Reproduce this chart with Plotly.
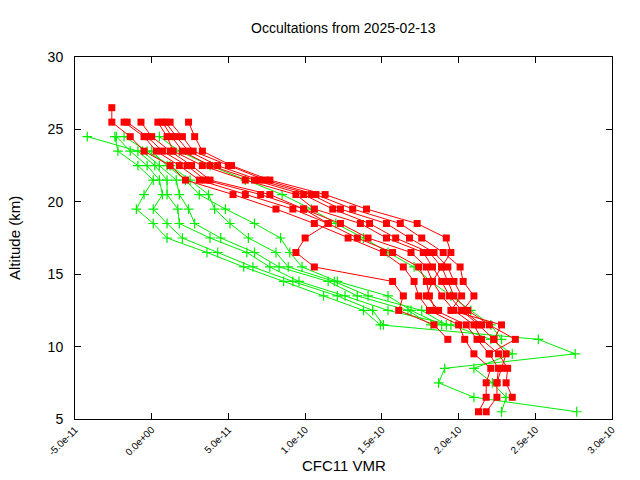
import plotly.graph_objects as go

# Altitude levels (km) shared by all profiles
alt = [26.5, 25.5, 24.5, 23.5, 22.5, 21.5, 20.5, 19.5, 18.5, 17.5, 16.5,
       15.5, 14.5, 13.5, 12.5, 11.5, 10.5, 9.5, 8.5, 7.5, 6.5, 5.5]

# CFC11 VMR profiles, in units of 1e-10 (None = no retrieval at that level)
red_1 = [-0.26, -0.26, -0.14, -0.05, 0.12, 0.22, 0.53, 0.81, 1.06, 1.28, 1.51,
         1.64, 1.71, 1.74, 1.81, 2.00, 2.04, 2.10, 2.21, 2.18, 2.18, 2.13]
red_2 = [None, -0.18, -0.05, 0.03, 0.18, 0.31, 0.61, 0.92, 1.15, 1.34, 1.57,
         1.74, 1.79, 1.81, 1.85, 2.05, 2.12, 2.20, 2.26, 2.25, 2.25, 2.18]
red_3 = [None, -0.16, -0.03, 0.07, 0.23, 0.35, 0.71, 0.99, 1.23, 1.41, 1.69,
         1.79, 1.83, 1.89, 1.97, 2.10, 2.15, 2.26, 2.32, 2.31, 2.35, None]
red_4 = [None, -0.07, 0.00, 0.12, 0.26, 0.38, 0.77, 0.99, 1.15, 1.00, 0.94,
         1.06, 1.57, 1.64, 1.61, 1.84, 1.93, None, None, None, None, None]
red_5 = [None, 0.04, 0.10, 0.14, 0.33, 0.61, 0.94, 1.06, 1.36, 1.53, 1.77,
         1.83, 1.89, 1.94, 2.02, 2.13, 2.23, 2.31, 2.28, 2.25, None, None]
red_6 = [None, 0.07, 0.13, 0.20, 0.38, 0.67, 0.99, 1.18, 1.42, 1.59, 1.81,
         1.89, 1.93, 1.97, 2.06, 2.20, 2.37, 2.20, None, None, None, None]
red_7 = [None, 0.09, 0.16, 0.24, 0.43, 0.70, 1.04, 1.23, 1.53, 1.68, 1.84,
         1.93, 1.97, 2.02, 1.95, 2.28, 2.23, None, None, None, None, None]
red_8 = [None, 0.12, 0.20, 0.27, 0.50, 0.74, 1.07, 1.31, 1.62, 1.76, 1.90,
         2.01, 2.03, 2.10, 2.03, 2.15, None, None, None, None, None, None]
red_9 = [None, 0.24, 0.28, 0.33, 0.52, 0.77, 1.13, 1.40, 1.73, 1.92, 1.95,
         1.89, 1.83, 1.79, 1.87, None, None, None, None, None, None, None]

green_1 = [None, None, -0.24, -0.22, -0.09, 0.01, -0.05, -0.10, 0.01, 0.10, 0.36,
           0.60, 0.86, 1.12, 1.38, 1.49, 2.52, 2.76, 1.91, 1.87, 2.10, 2.77]
green_2 = [None, None, -0.23, -0.14, -0.03, 0.05, 0.07, 0.01, 0.10, 0.20, 0.43,
           0.66, 0.92, 1.21, 1.44, 1.51, None, None, None, None, None, None]
green_3 = [None, None, -0.42, -0.09, 0.02, 0.10, 0.10, 0.17, 0.18, 0.38, 0.62,
           0.77, 0.96, 1.26, 1.54, 1.95, 2.21, 2.35, 2.10, 2.22, 2.31, 2.28]
green_4 = [None, None, None, -0.06, 0.05, 0.16, 0.18, 0.24, 0.28, 0.45, 0.67,
           0.83, 1.15, 1.34, 1.67, 1.82, None, None, None, None, None, None]
green_5 = [None, None, -0.18, -0.03, 0.12, 0.25, 0.37, 0.41, 0.51, 0.63, 0.81,
           0.89, 1.19, 1.41, 1.76, 1.92, None, None, None, None, None, None]
green_6 = [None, None, 0.05, 0.18, 0.38, 0.61, 0.85, 1.04, 1.20, 1.38, 1.54,
           1.71, 1.82, 1.95, 2.08, 2.21, 2.28, None, None, None, None, None]
green_7 = [None, None, None, 0.00, 0.10, 0.22, 0.31, 0.48, 0.67, 0.84, 0.90,
           0.98, 1.21, 1.54, 1.69, 1.89, None, None, None, None, None, None]

red_profiles = [red_1, red_2, red_3, red_4, red_5, red_6, red_7, red_8, red_9]
green_profiles = [green_1, green_2, green_3, green_4, green_5, green_6, green_7]

x_ticks = [-5e-11, 0, 5e-11, 1e-10, 1.5e-10, 2e-10, 2.5e-10, 3e-10]
x_tick_text = ['-5.0e-11', '0.0e+00', '5.0e-11', '1.0e-10', '1.5e-10',
               '2.0e-10', '2.5e-10', '3.0e-10']
y_ticks = [5, 10, 15, 20, 25, 30]

SCALE = 1e-10


def to_vmr(p):
    return [None if v is None else v * SCALE for v in p]


fig = go.Figure()

for p in green_profiles:
    fig.add_trace(go.Scatter(x=to_vmr(p), y=alt, mode='lines+markers',
                             line=dict(color='#00ee00', width=1),
                             marker=dict(symbol='cross-thin', size=7,
                                         line=dict(color='#00ee00', width=1.2)),
                             showlegend=False))

for p in red_profiles:
    fig.add_trace(go.Scatter(x=to_vmr(p), y=alt, mode='lines+markers',
                             line=dict(color='#ff0000', width=1),
                             marker=dict(symbol='square', size=7, color='#ff0000'),
                             showlegend=False))

axis_common = dict(showline=True, linecolor='black', linewidth=1, mirror='allticks',
                   ticks='inside', ticklen=6, tickcolor='black', showgrid=False,
                   zeroline=False)

fig.update_layout(
    width=640, height=480,
    margin=dict(l=75, r=28, t=57, b=61),
    paper_bgcolor='white', plot_bgcolor='white',
    font=dict(family='Liberation Sans, Arial, sans-serif', color='black'),
    xaxis=dict(range=[-5e-11, 3e-10], tickvals=x_ticks, ticktext=x_tick_text,
               tickangle=-45, tickfont=dict(size=10), **axis_common),
    yaxis=dict(range=[5, 30], tickvals=y_ticks, tickfont=dict(size=14),
               ticklabelstandoff=8, **axis_common),
    annotations=[
        dict(text='Occultations from 2025-02-13', x=0.5, y=1, xref='paper', yref='paper',
             xanchor='center', yanchor='bottom', yshift=19, showarrow=False,
             font=dict(size=14)),
        dict(text='CFC11 VMR', x=0.5, y=0, xref='paper', yref='paper',
             xanchor='center', yanchor='top', yshift=-36, showarrow=False,
             font=dict(size=15)),
        dict(text='Altitude (km)', x=0, y=0.5, xref='paper', yref='paper',
             xanchor='center', yanchor='middle', xshift=-61, textangle=-90,
             showarrow=False, font=dict(size=15)),
    ],
)

# drop the default body margin so the 640x480 figure fills the window
fig.write_html('out.html', config={'displayModeBar': False},
               post_script="document.body.style.margin='0';")
